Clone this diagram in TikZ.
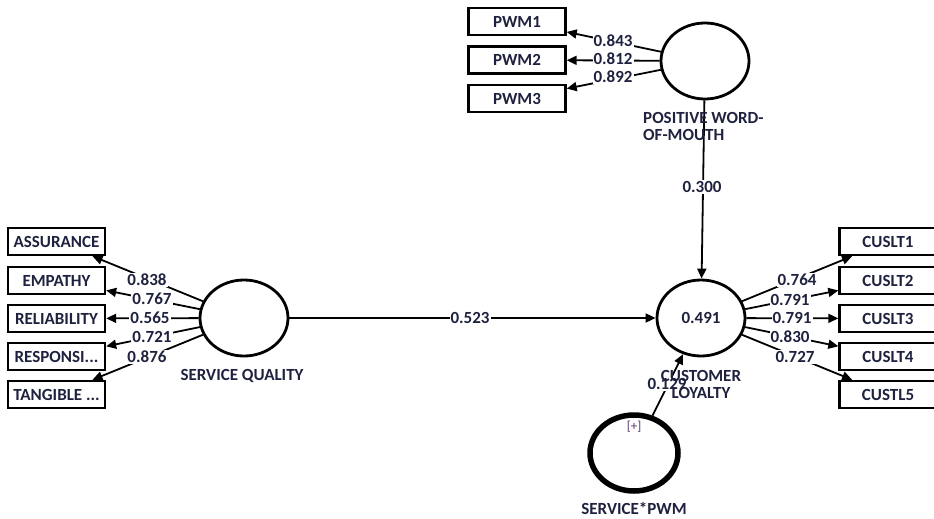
\documentclass[tikz,border=0pt]{standalone}
\usepackage{fontspec}
\setmainfont{Carlito}
\usetikzlibrary{arrows.meta,shapes.geometric}
\definecolor{labc}{RGB}{30,34,62}
\definecolor{plusc}{RGB}{90,50,110}
\begin{document}
\begin{tikzpicture}[x=1pt,y=-1pt,
  every node/.style={font=\fontsize{17}{17}\selectfont\bfseries, text=labc},
  indbox/.style={draw=black, line width=2.4pt, minimum width=97pt, minimum height=27pt, inner sep=0pt},
  latent/.style={draw=black, ellipse, line width=2.8pt, minimum width=88pt, minimum height=76pt, inner sep=0pt},
  modlatent/.style={latent, line width=5.5pt},
  conn/.style={line width=1.8pt, -{Triangle[length=10pt,width=9pt]}},
  val/.style={fill=white, inner sep=1pt},
  captext/.style={align=center, inner sep=0pt}
]
\useasboundingbox (0,0) rectangle (934,519);
% latent variables
\node[latent] (pwm) at (705,61) {};
\node[latent] (sq) at (244,318) {};
\node[latent] (cl) at (701,318) {0.491};
\node[modlatent] (spwm) at (634,453) {};
% indicators
\node[indbox] (pwm1) at (517,21.5) {PWM1};
\node[indbox] (pwm2) at (517,60) {PWM2};
\node[indbox] (pwm3) at (517,98.5) {PWM3};
\node[indbox] (ass) at (56.5,241.5) {ASSURANCE};
\node[indbox] (emp) at (56.5,280.5) {EMPATHY};
\node[indbox] (rel) at (56.5,318.5) {RELIABILITY};
\node[indbox] (res) at (56.5,356.5) {RESPONSI...};
\node[indbox] (tan) at (56.5,394.5) {TANGIBLE ...};
\node[indbox] (c1) at (888,241.5) {CUSLT1};
\node[indbox] (c2) at (888,280.5) {CUSLT2};
\node[indbox] (c3) at (888,318.5) {CUSLT3};
\node[indbox] (c4) at (888,356.5) {CUSLT4};
\node[indbox] (c5) at (888,394.5) {CUSTL5};
% connectors
\draw[conn] (pwm) -- (pwm1);
\draw[conn] (pwm) -- (pwm2);
\draw[conn] (pwm) -- (pwm3);
\draw[conn] (sq) -- (ass);
\draw[conn] (sq) -- (emp);
\draw[conn] (sq) -- (rel);
\draw[conn] (sq) -- (res);
\draw[conn] (sq) -- (tan);
\draw[conn] (cl) -- (c1);
\draw[conn] (cl) -- (c2);
\draw[conn] (cl) -- (c3);
\draw[conn] (cl) -- (c4);
\draw[conn] (cl) -- (c5);
\draw[conn] (pwm) -- (cl);
\draw[conn] (sq) -- (cl);
\draw[conn] (spwm) -- (cl);
% path values
\node[val] at (613,41) {0.843};
\node[val] at (613,59) {0.812};
\node[val] at (613,77) {0.892};
\node[val] at (147,280) {0.838};
\node[val] at (152,299) {0.767};
\node[val] at (150,318) {0.565};
\node[val] at (152,337) {0.721};
\node[val] at (147,357) {0.876};
\node[val] at (797,280) {0.764};
\node[val] at (790,300) {0.791};
\node[val] at (792,318) {0.791};
\node[val] at (790,337) {0.830};
\node[val] at (795,357) {0.727};
\node[val] at (702,187) {0.300};
\node[val] at (470,318) {0.523};
\node[val] at (667,384) {0.129};
% captions
\node[captext, align=left, anchor=west] at (643,126) {POSITIVE WORD-\\OF-MOUTH};
\node[captext] at (242,376) {SERVICE QUALITY};
\node[captext] at (701,384) {CUSTOMER\\LOYALTY};
\node[captext] at (634,508) {SERVICE*PWM};
\node[font=\fontsize{13}{13}\selectfont, text=plusc, inner sep=0pt] at (634,427) {[+]};
\end{tikzpicture}
\end{document}
